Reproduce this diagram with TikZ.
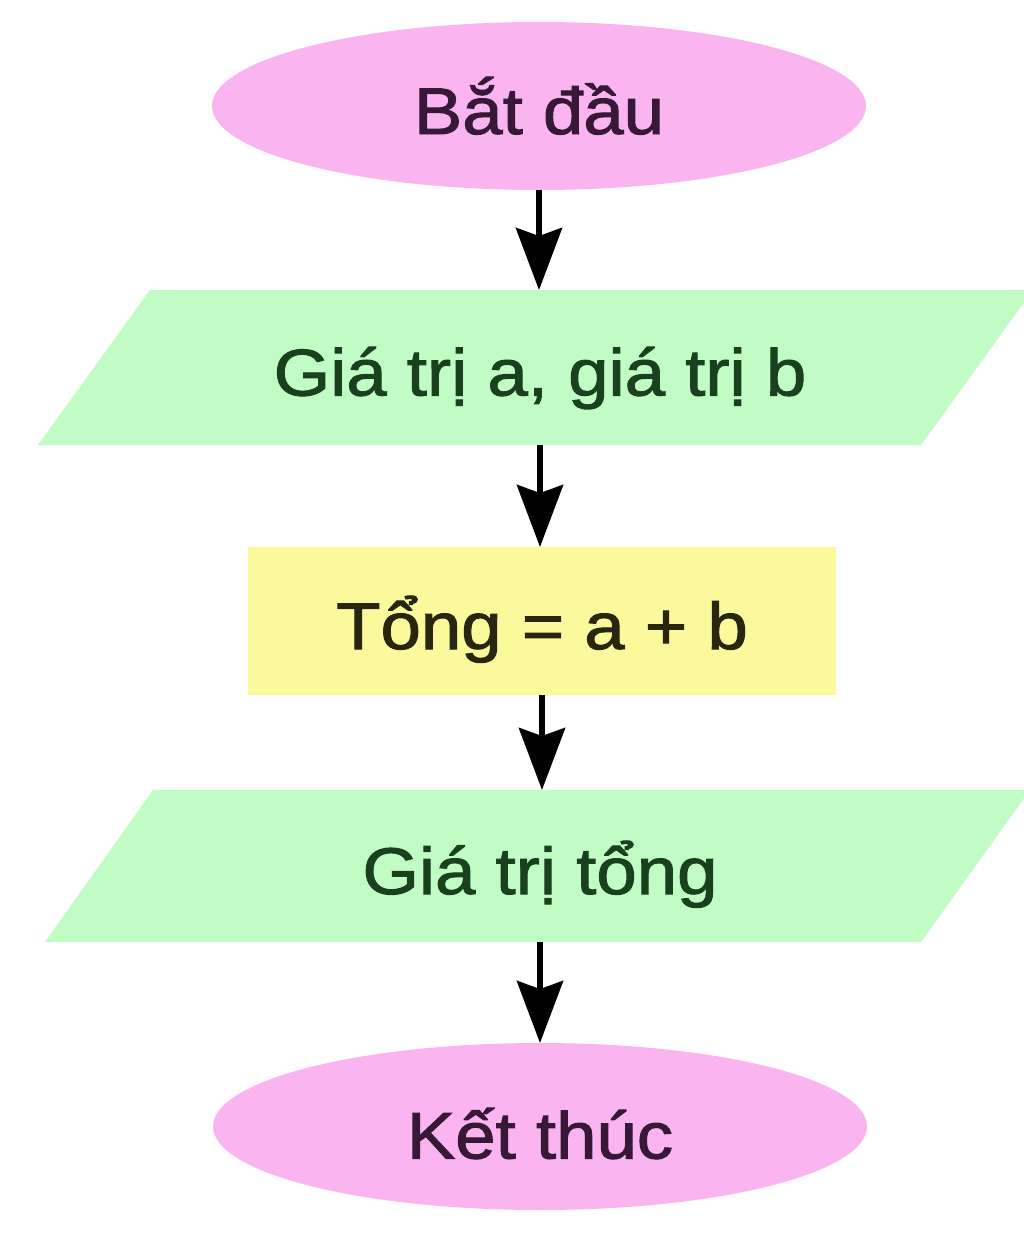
\documentclass[tikz,border=0pt]{standalone}
\usepackage{fontspec}
\setmainfont{Liberation Sans}[FakeStretch=1.1, FakeBold=1.5]
\usetikzlibrary{shapes.geometric,arrows.meta}
\definecolor{pinkfill}{RGB}{250,180,240}
\definecolor{greenfill}{RGB}{192,252,196}
\definecolor{yellowfill}{RGB}{250,249,155}
\definecolor{pinktext}{RGB}{55,25,55}
\definecolor{greentext}{RGB}{25,65,30}
\definecolor{yellowtext}{RGB}{40,38,15}
\tikzset{
  txt/.style={font=\fontsize{66}{80}\selectfont, inner sep=0pt, outer sep=0pt, text height=66pt, text depth=10pt},
  terminal/.style={txt, ellipse, fill=pinkfill, text=pinktext, minimum width=654pt, minimum height=168pt},
  iobox/.style={txt, rectangle, text=greentext, minimum height=155pt, minimum width=600pt},
  procbox/.style={txt, rectangle, fill=yellowfill, text=yellowtext, minimum width=588pt, minimum height=148pt},
  flow/.style={line width=6pt, -{Stealth[length=62pt, width=46pt, inset=8pt]}}
}
\begin{document}
\begin{tikzpicture}[x=1pt, y=-1pt]
\useasboundingbox (0,0) rectangle (1024,1247);
\fill[white] (0,0) rectangle (1024,1247);
% parallelograms
\fill[greenfill] (150,290) -- (1033,290) -- (921,445) -- (38,445) -- cycle;
\fill[greenfill] (153,790) -- (1030,790) -- (921,942) -- (45,942) -- cycle;
\node[terminal] (start) at (539,106) {Bắt đầu};
\node[iobox] (in) at (540,367.5) {Giá trị a, giá trị b};
\node[procbox] (sum) at (542,621) {Tổng = a + b};
\node[iobox, minimum height=152pt] (out) at (540,866) {Giá trị tổng};
\node[terminal, minimum height=167pt, text height=74pt] (end) at (540,1126.5) {Kết thúc};
\draw[flow] (start.south) -- (start.south |- in.north);
\draw[flow] (in.south) -- (in.south |- sum.north);
\draw[flow] (sum.south) -- (sum.south |- out.north);
\draw[flow] (out.south) -- (out.south |- end.north);
\end{tikzpicture}
\end{document}
